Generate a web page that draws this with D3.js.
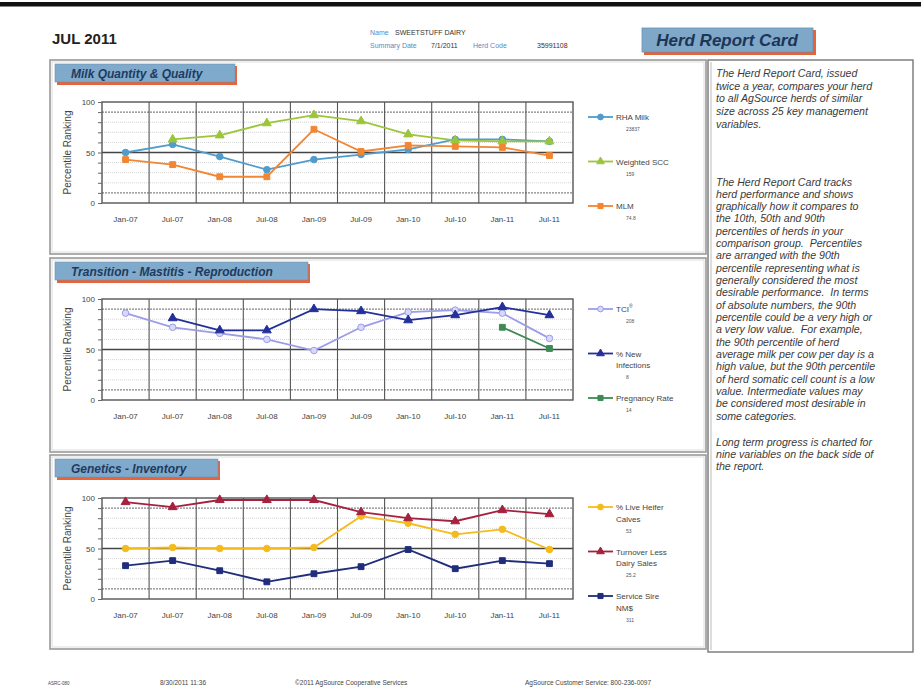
<!DOCTYPE html>
<html>
<head>
<meta charset="utf-8">
<script src="https://cdn.jsdelivr.net/npm/d3@7"></script>
<style>
  body { margin: 0; background: #fff; }
  svg { display: block; font-family: "Liberation Sans", Arial, sans-serif; }
</style>
</head>
<body>
<svg id="chart" width="921" height="700"></svg>
<script>
const months = ["Jan-07", "Jul-07", "Jan-08", "Jul-08", "Jan-09", "Jul-09", "Jan-10", "Jul-10", "Jan-11", "Jul-11"];

// Milk Quantity & Quality
const rhaMilk = [50, 58, 46, 33, 43, 48, 53, 63, 63, 61];
const weightedScc = [null, 63, 67, 79, 87, 81, 68, 62, 61, 61];
const mlm = [43, 38, 26, 26, 73, 51, 57, 56, 55, 47];

// Transition - Mastitis - Reproduction
const tci = [86, 72, 66, 60, 49, 72, 87, 89, 86, 61];
const newInfections = [null, 81, 69, 69, 90, 88, 79, 84, 92, 84];
const pregnancyRate = [null, null, null, null, null, null, null, null, 72, 51];

// Genetics - Inventory
const liveHeifer = [50, 51, 50, 50, 51, 82, 75, 64, 69, 49];
const turnover = [96, 91, 98, 98, 98, 86, 80, 77, 88, 84];
const serviceSire = [33, 38, 28, 17, 25, 32, 49, 30, 38, 35];

const yTicks = [0, 50, 100];

const infoPara1 = [
  "The Herd Report Card, issued",
  "twice a year, compares your herd",
  "to all AgSource herds of similar",
  "size across 25 key management",
  "variables."
];
const infoPara2 = [
  "The Herd Report Card tracks",
  "herd performance and shows",
  "graphically how it compares to",
  "the 10th, 50th and 90th",
  "percentiles of herds in your",
  "comparison group.  Percentiles",
  "are arranged with the 90th",
  "percentile representing what is",
  "generally considered the most",
  "desirable performance.  In terms",
  "of absolute numbers, the 90th",
  "percentile could be a very high or",
  "a very low value.  For example,",
  "the 90th percentile of herd",
  "average milk per cow per day is a",
  "high value, but the 90th percentile",
  "of herd somatic cell count is a low",
  "value. Intermediate values may",
  "be considered most desirable in",
  "some categories."
];
const infoPara3 = [
  "Long term progress is charted for",
  "nine variables on the back side of",
  "the report."
];

const panels = [
  {
    title: "Milk Quantity & Quality", top: 60, plotTop: 102, tabW: 180, legendTop: 117,
    series: [
      { name: ["RHA Milk"], sub: "23837", values: rhaMilk, color: "#4f9ccd", symbol: d3.symbolCircle },
      { name: ["Weighted SCC"], sub: "159", values: weightedScc, color: "#9cc63a", symbol: d3.symbolTriangle },
      { name: ["MLM"], sub: "74.8", values: mlm, color: "#f28633", symbol: d3.symbolSquare }
    ]
  },
  {
    title: "Transition - Mastitis - Reproduction", top: 258, plotTop: 299, tabW: 253, legendTop: 309,
    series: [
      { name: ["TCI"], sup: "\u00AE", sub: "208", values: tci, color: "#9c9ce8", fill: "#d8d8fa", symbol: d3.symbolCircle },
      { name: ["% New", "Infections"], sub: "8", values: newInfections, color: "#23309a", symbol: d3.symbolTriangle },
      { name: ["Pregnancy Rate"], sub: "14", values: pregnancyRate, color: "#3d8a55", symbol: d3.symbolSquare }
    ]
  },
  {
    title: "Genetics - Inventory", top: 455, plotTop: 498, tabW: 163, legendTop: 507,
    series: [
      { name: ["% Live Heifer", "Calves"], sub: "53", values: liveHeifer, color: "#f5bb1c", symbol: d3.symbolCircle },
      { name: ["Turnover Less", "Dairy Sales"], sub: "25.2", values: turnover, color: "#a5213f", symbol: d3.symbolTriangle },
      { name: ["Service Sire", "NM$"], sub: "311", values: serviceSire, color: "#1f2d7c", symbol: d3.symbolSquare }
    ]
  }
];

const svg = d3.select("#chart");
const plotLeft = 102, plotRight = 573, plotH = 101, panelH = 194;

const x = d3.scaleBand().domain(months).range([plotLeft, plotRight]);

// page frame
svg.append("rect").attr("x", 0).attr("y", 2).attr("width", 921).attr("height", 4.5).attr("fill", "#111");

// header
svg.append("text").attr("x", 52).attr("y", 44).text("JUL 2011")
  .attr("font-size", 15).attr("font-weight", "bold").attr("fill", "#222");

const hdr = [
  [370, 35, "Name", "#5a8bc0"], [395, 35, "SWEETSTUFF DAIRY", "#333"],
  [370, 48, "Summary Date", "#5a8bc0"], [431, 48, "7/1/2011", "#333"],
  [473, 48, "Herd Code", "#5a8bc0"], [537, 48, "35991108", "#333"]
];
svg.selectAll("text.hdr").data(hdr).join("text").attr("class", "hdr")
  .attr("x", (d) => d[0]).attr("y", (d) => d[1]).text((d) => d[2])
  .attr("font-size", 7).attr("fill", (d) => d[3]);

// "Herd Report Card" tab
svg.append("rect").attr("x", 644).attr("y", 30).attr("width", 172).attr("height", 25).attr("fill", "#e8623a");
svg.append("rect").attr("x", 642).attr("y", 28).attr("width", 171).attr("height", 24)
  .attr("fill", "#7fa8c8").attr("stroke", "#6a8fae").attr("stroke-width", 0.8);
svg.append("text").attr("x", 727).attr("y", 46).text("Herd  Report Card")
  .attr("text-anchor", "middle").attr("font-size", 17).attr("font-weight", "bold")
  .attr("font-style", "italic").attr("fill", "#1d3557");

// info box
svg.append("rect").attr("x", 708).attr("y", 60).attr("width", 205).attr("height", 592)
  .attr("fill", "#fff").attr("stroke", "#777").attr("stroke-width", 1.4);
svg.append("line").attr("x1", 711).attr("x2", 711).attr("y1", 62).attr("y2", 650)
  .attr("stroke", "#bbb").attr("stroke-width", 1);
[[infoPara1, 77, 12.7], [infoPara2, 185.5, 12.33], [infoPara3, 445.5, 12.33]].forEach(([lines, y0, lh]) => {
  svg.append("g").selectAll("text").data(lines).join("text")
    .attr("x", 716).attr("y", (d, i) => y0 + i * lh).text((d) => d)
    .attr("font-size", 10.6).attr("font-style", "italic").attr("fill", "#3a3a3a")
    .attr("xml:space", "preserve");
});

panels.forEach((p) => {
  const g = svg.append("g");
  const plotBottom = p.plotTop + plotH;
  const y = d3.scaleLinear().domain([0, 100]).range([plotBottom, p.plotTop]);
  const cx = (m) => x(m) + x.bandwidth() / 2;

  // panel frame
  g.append("rect").attr("x", 50).attr("y", p.top).attr("width", 656).attr("height", panelH)
    .attr("fill", "none").attr("stroke", "#999").attr("stroke-width", 1.6);
  g.append("rect").attr("x", 52).attr("y", p.top + 2).attr("width", 652).attr("height", panelH - 4)
    .attr("fill", "none").attr("stroke", "#ddd").attr("stroke-width", 1);

  // title tab
  g.append("rect").attr("x", 57).attr("y", p.top + 6).attr("width", p.tabW).attr("height", 19).attr("fill", "#e8623a");
  g.append("rect").attr("x", 55).attr("y", p.top + 4).attr("width", p.tabW).attr("height", 18)
    .attr("fill", "#80aacb").attr("stroke", "#6d93b3").attr("stroke-width", 0.6);
  g.append("text").attr("x", 71).attr("y", p.top + 17.5).text(p.title)
    .attr("font-size", 12).attr("font-weight", "bold").attr("font-style", "italic").attr("fill", "#1f3a60");

  // grid
  const minor = d3.range(10, 100, 10);
  g.append("g").selectAll("line").data(minor).join("line")
    .attr("x1", plotLeft).attr("x2", plotRight)
    .attr("y1", (d) => y(d)).attr("y2", (d) => y(d))
    .attr("stroke", (d) => (d === 50 ? "#444" : d === 10 || d === 90 ? "#666" : "#d4d4d4"))
    .attr("stroke-width", (d) => (d === 50 ? 1.3 : 1))
    .attr("stroke-dasharray", (d) => (d === 50 ? null : d === 10 || d === 90 ? "2,1" : "1,1"));
  g.append("g").selectAll("line").data(months.slice(1)).join("line")
    .attr("x1", (d) => x(d)).attr("x2", (d) => x(d))
    .attr("y1", p.plotTop).attr("y2", plotBottom)
    .attr("stroke", "#555").attr("stroke-width", 1.1);
  g.append("rect").attr("x", plotLeft).attr("y", p.plotTop).attr("width", plotRight - plotLeft).attr("height", plotH)
    .attr("fill", "none").attr("stroke", "#555").attr("stroke-width", 1.4);

  // y axis
  g.append("g").attr("transform", `translate(${plotLeft},0)`)
    .call(d3.axisLeft(y).tickValues(d3.range(0, 101, 10)).tickSize(4).tickFormat((d) => (yTicks.includes(d) ? d : "")))
    .call((a) => a.select(".domain").remove())
    .call((a) => a.selectAll("line").attr("stroke", "#666"))
    .call((a) => a.selectAll("text").attr("font-size", 8).attr("fill", "#444").attr("font-family", "Liberation Sans, Arial, sans-serif"));
  g.append("text")
    .attr("transform", `translate(71,${(p.plotTop + plotBottom) / 2}) rotate(-90)`)
    .attr("text-anchor", "middle").text("Percentile Ranking")
    .attr("font-size", 10).attr("fill", "#444");

  // x axis
  g.append("g").attr("transform", `translate(0,${plotBottom})`)
    .call(d3.axisBottom(x).tickSize(0).tickPadding(13))
    .call((a) => a.select(".domain").remove())
    .call((a) => a.selectAll("text").attr("font-size", 8).attr("fill", "#444").attr("font-family", "Liberation Sans, Arial, sans-serif"));

  // series
  const line = d3.line().defined((d) => d.v !== null).x((d) => cx(d.m)).y((d) => y(d.v));
  p.series.forEach((s) => {
    const pts = months.map((m, i) => ({ m, v: s.values[i] }));
    g.append("path").datum(pts).attr("d", line)
      .attr("fill", "none").attr("stroke", s.color).attr("stroke-width", 1.8);
    g.append("g").selectAll("path").data(pts.filter((d) => d.v !== null)).join("path")
      .attr("transform", (d) => `translate(${cx(d.m)},${y(d.v)})`)
      .attr("d", d3.symbol().type(s.symbol).size(34))
      .attr("fill", s.fill || s.color).attr("stroke", s.color).attr("stroke-width", 1);
  });

  // legend
  p.series.forEach((s, i) => {
    const ly = p.legendTop + i * 44.5;
    const lg = g.append("g").attr("transform", `translate(588,${ly})`);
    lg.append("line").attr("x1", 0).attr("x2", 25).attr("y1", 0).attr("y2", 0)
      .attr("stroke", s.color).attr("stroke-width", 1.8);
    lg.append("path").attr("transform", "translate(12.5,0)")
      .attr("d", d3.symbol().type(s.symbol).size(26))
      .attr("fill", s.fill || s.color).attr("stroke", s.color);
    const t = lg.append("text").attr("x", 28).attr("y", 3).attr("font-size", 8).attr("fill", "#444");
    s.name.forEach((n, k) => {
      t.append("tspan").attr("x", 28).attr("dy", k === 0 ? 0 : 11.5).text(n);
    });
    if (s.sup) {
      t.append("tspan").attr("dy", -4).attr("font-size", 5).text(s.sup);
    }
    lg.append("text").attr("x", 38).attr("y", 3 + (s.name.length - 1) * 11.5 + 11)
      .attr("font-size", 5).attr("fill", "#555").text(s.sub);
  });
});

// footer
const footer = [
  [48, 4.5, "ASRC-080"], [160, 6.5, "8/30/2011 11:36"],
  [295, 6.5, "\u00A92011 AgSource Cooperative Services"], [525, 6.5, "AgSource Customer Service: 800-236-0097"]
];
svg.append("g").selectAll("text").data(footer).join("text")
  .attr("x", (d) => d[0]).attr("y", 685).text((d) => d[2])
  .attr("font-size", (d) => d[1]).attr("fill", "#444");
</script>
</body>
</html>
